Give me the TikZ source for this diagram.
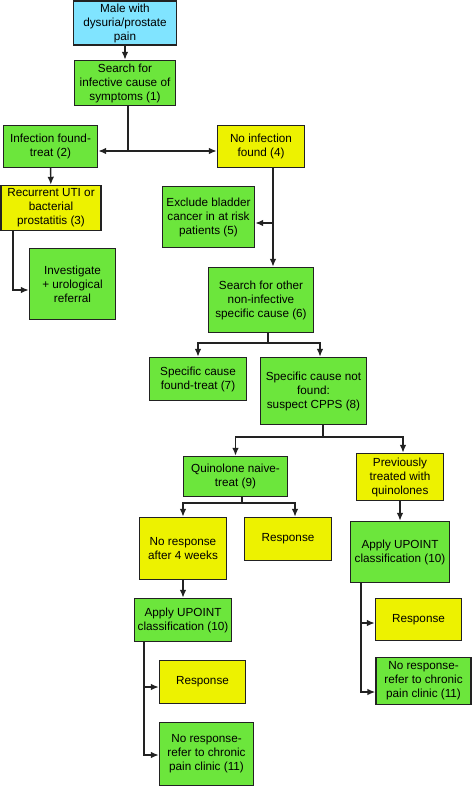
\documentclass[tikz,border=0pt]{standalone}
\usepackage{fontspec}
\setmainfont{Liberation Sans}
\usetikzlibrary{arrows.meta,calc}
\definecolor{Leaf}{HTML}{6CE63C}
\definecolor{Lemon}{HTML}{EDF200}
\definecolor{Sky}{HTML}{80E4FF}
\definecolor{Edge}{HTML}{222222}
\tikzset{
  box/.style={draw=Edge, line width=1.1pt, align=center, inner sep=1pt,
              font=\fontsize{8.8}{10.5}\selectfont},
  grn/.style={box, fill=Leaf},
  ylw/.style={box, fill=Lemon},
  cyn/.style={box, fill=Sky},
  sz/.style 2 args={minimum width=#1*0.75pt, minimum height=#2*0.75pt},
  arrow/.style={-{Latex[length=6pt,width=5pt]}, line width=1.1pt, draw=Edge},
  link/.style={line width=1.1pt, draw=Edge},
}

\begin{document}
\begin{tikzpicture}[x=0.75pt, y=-0.75pt]
  \useasboundingbox (0,0) rectangle (472,787);
  \node[cyn, sz={103}{44}] (male) at (125,23) {Male with\\dysuria/prostate\\pain};
  \node[grn, sz={101}{45}] (search) at (125,83) {Search for\\infective cause of\\symptoms (1)};
  \node[grn, sz={94}{42}] (found) at (50.5,146.5) {Infection found-\\treat (2)};
  \node[ylw, sz={87}{42}] (noinf) at (261,146.5) {No infection\\found (4)};
  \node[ylw, sz={100}{45}] (recur) at (51,208) {Recurrent UTI or\\bacterial\\prostatitis (3)};
  \node[grn, sz={92}{61}] (exclude) at (208.5,217) {Exclude bladder\\cancer in at risk\\patients (5)};
  \node[grn, sz={86}{71}] (invest) at (72.5,284) {Investigate\\+ urological\\referral};
  \node[grn, sz={105}{65}] (other) at (261,300) {Search for other\\non-infective\\specific cause (6)};
  \node[grn, sz={97}{43}] (specfound) at (198,379) {Specific cause\\found-treat (7)};
  \node[grn, sz={106}{67}] (specnot) at (313.5,391) {Specific cause not\\found:\\suspect CPPS (8)};
  \node[grn, sz={104}{40}] (quin) at (235.5,476.5) {Quinolone naive-\\treat (9)};
  \node[ylw, sz={87}{47}] (prev) at (400,477) {Previously\\treated with\\quinolones};
  \node[ylw, sz={87}{62}] (nores4) at (183,548.5) {No response\\after 4 weeks};
  \node[ylw, sz={87}{43}] (resp1) at (288,539) {Response};
  \node[grn, sz={99}{61}] (upointR) at (400,552) {Apply UPOINT\\classification (10)};
  \node[grn, sz={97}{43}] (upointL) at (183,620) {Apply UPOINT\\classification (10)};
  \node[ylw, sz={86}{43}] (respL) at (202.5,682) {Response};
  \node[grn, sz={94}{63}] (noresL) at (206.5,754) {No response-\\refer to chronic\\pain clinic (11)};
  \node[ylw, sz={86}{42}] (respR) at (418.5,619.5) {Response};
  \node[grn, sz={95}{47}] (noresR) at (423.5,681) {No response-\\refer to chronic\\pain clinic (11)};

  \coordinate (fork1) at (128,151);
  \coordinate (bend1) at (13,290);
  \coordinate (fork2) at (273,223);
  \coordinate (fork3) at (268,343);
  \coordinate (fork4) at (323,437);
  \coordinate (fork5) at (242,503);
  \coordinate (tap1) at (144,687);
  \coordinate (rail1) at (144,755);
  \coordinate (tap2) at (361,623);
  \coordinate (rail2) at (361,692);

  \draw[arrow] (male) -- (search);
  \draw[link] (search.south -| fork1) -- (fork1);
  \draw[arrow] (fork1) -- (fork1 -| found.east);
  \draw[arrow] (fork1) -- (fork1 -| noinf.west);
  \draw[arrow] (found) -- (recur);
  \draw[arrow] (recur.south -| bend1) |- (invest.west |- bend1);
  \draw[arrow] (noinf.south -| fork2) -- (other.north -| fork2);
  \draw[arrow] (fork2) -- (fork2 -| exclude.east);
  \draw[arrow] (other.south -| fork3) -- (fork3) -| (specfound.north);
  \draw[arrow] (other.south -| fork3) -- (fork3) -| ($(specnot.north)+(6.5,0)$);
  \draw[arrow] (specnot.south -| fork4) -- (fork4) -| (quin.north);
  \draw[arrow] (specnot.south -| fork4) -- (fork4) -| ($(prev.north)+(3,0)$);
  \draw[arrow] (quin.south -| fork5) -- (fork5) -| (nores4.north);
  \draw[arrow] (quin.south -| fork5) -- (fork5) -| ($(resp1.north)+(7,0)$);
  \draw[arrow] (prev) -- (upointR);
  \draw[arrow] (nores4) -- (upointL);
  \draw[arrow] (upointL.south -| rail1) |- (noresL.west |- rail1);
  \draw[arrow] (tap1) -- (tap1 -| respL.west);
  \draw[arrow] (upointR.south -| rail2) |- (noresR.west |- rail2);
  \draw[arrow] (tap2) -- (tap2 -| respR.west);
\end{tikzpicture}
\end{document}
